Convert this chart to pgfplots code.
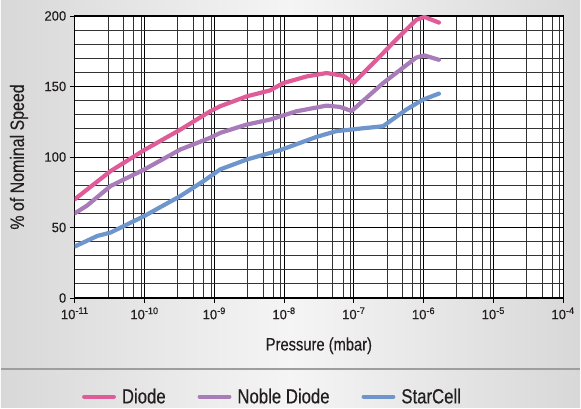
\documentclass[border=0pt]{standalone}
\usepackage{fontspec}
\setmainfont{Liberation Sans}[FakeStretch=0.82, FakeBold=0.35]
\newfontfamily\tickfont{Liberation Sans}[FakeStretch=0.97, FakeBold=0.35]
\usepackage{pgfplots}
\pgfplotsset{compat=1.18}
\definecolor{diode}{RGB}{224,92,152}
\definecolor{noble}{RGB}{168,124,184}
\definecolor{starcell}{RGB}{110,150,204}
\definecolor{bgedge}{RGB}{216,216,216}
\definecolor{txt}{RGB}{35,31,32}
\begin{document}
\begin{tikzpicture}
\shade[left color=bgedge, right color=bgedge, middle color=white!96!black] (0,0) rectangle (581bp,409bp);
\draw[color=black!38, line width=2bp] (0,38.5bp) -- (581bp,38.5bp);
\begin{axis}[
  at={(74bp,110bp)}, anchor=south west,
  scale only axis, width=490bp, height=283bp,
  xmode=log, xmin=1e-11, xmax=1e-4, ymin=0, ymax=200,
  axis background/.style={fill=white},
  xtick={1e-11,1e-10,1e-9,1e-8,1e-7,1e-6,1e-5,1e-4},
  xticklabels={10\textsuperscript{-11},10\textsuperscript{-10},10\textsuperscript{-9},10\textsuperscript{-8},10\textsuperscript{-7},10\textsuperscript{-6},10\textsuperscript{-5},10\textsuperscript{-4}},
  minor xtick={3e-11,5e-11,7e-11,9e-11,3e-10,5e-10,7e-10,9e-10,3e-9,5e-9,7e-9,9e-9,3e-8,5e-8,7e-8,9e-8,3e-7,5e-7,7e-7,9e-7,3e-6,5e-6,7e-6,9e-6,3e-5,5e-5,7e-5,9e-5},
  ytick={0,50,100,150,200},
  minor ytick={10,20,30,40,60,70,80,90,110,120,130,140,160,170,180,190},
  /pgf/number format/assume math mode=true,
  grid=both,
  major grid style={black, line width=0.8bp},
  minor grid style={black!80, line width=0.8bp},
  axis line style={black, line width=1bp},
  tick pos=left, tick align=outside,
  major tick length=5bp, minor tick length=0pt,
  tick style={black, line width=0.8bp},
  ticklabel style={font=\tickfont\fontsize{13.5bp}{15bp}\selectfont, text=txt},
  xticklabel style={yshift=-1bp},
  xlabel={Pressure (mbar)},
  ylabel={\% of Nominal Speed},
  xlabel style={font=\fontsize{18bp}{20bp}\selectfont, text=txt, at={(axis description cs:0.5,0)}, anchor=center, yshift=-48bp},
  ylabel style={font=\fontsize{19.5bp}{21bp}\selectfont, text=txt, at={(axis description cs:-0.1143,0.5)}, anchor=center},
  legend columns=3,
  legend style={at={(0.405,-0.35)}, anchor=center, draw=none, fill=none,
    font=\fontsize{20.5bp}{23bp}\selectfont, text=txt,
    /tikz/every odd column/.append style={column sep=4bp},
    /tikz/every even column/.append style={column sep=30bp}},
  legend image code/.code={\draw[#1, line width=4bp] (0bp,0bp) -- (30bp,0bp);},
  every axis plot/.append style={line width=4.2bp, line join=round, line cap=round},
]
\addplot[diode] coordinates {
(1e-11,70) (3.27e-11,90) (1e-10,105) (3.27e-10,119.4) (8.77e-10,132.4) (1.22e-9,136)
(2.93e-9,143) (6.31e-9,147.2) (9.77e-9,152.4) (2.11e-8,157.1) (4.07e-8,159.5) (7.03e-8,157.6)
(1e-7,152.6) (2.63e-7,173.6) (4.07e-7,183.3) (7.87e-7,197.2) (1.03e-6,199.3) (1.66e-6,195.3)};
\addlegendentry{Diode}
\addplot[noble] coordinates {
(1e-11,60) (1.5e-11,65.5) (3.27e-11,79.4) (1e-10,91.2) (3.27e-10,105.3) (8.77e-10,113.6) (1.22e-9,117.1)
(2.93e-9,123) (6.31e-9,126.5) (1.51e-8,132.4) (4.07e-8,136.4) (6.3e-8,135.5) (9.33e-8,132.6)
(2.63e-7,152.4) (7.87e-7,170.5) (1.03e-6,172) (1.66e-6,168.9)};
\addlegendentry{Noble Diode}
\addplot[starcell] coordinates {
(1e-11,36.5) (2.11e-11,44) (3.27e-11,46.4) (1e-10,58.2) (3.27e-10,72.3) (7.03e-10,82.9)
(1.22e-9,91.2) (2.93e-9,98.2) (8.77e-9,104.8) (2.95e-8,114.3) (5.62e-8,118.3) (1.22e-7,120.1)
(2.63e-7,121.8) (5.66e-7,133.6) (9.77e-7,140.6) (1.66e-6,144.9)};
\addlegendentry{StarCell}
\end{axis}
\end{tikzpicture}
\end{document}
